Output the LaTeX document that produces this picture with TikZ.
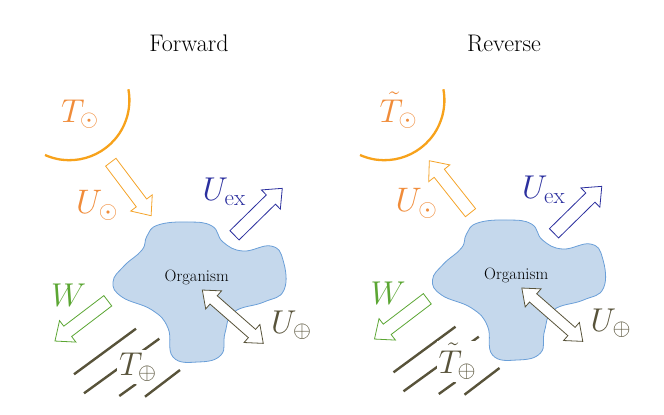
\documentclass[tikz,border=0pt]{standalone}
\usepackage{fix-cm}
\definecolor{sunarc}{HTML}{F7A21B}
\definecolor{sunlab}{HTML}{F08C3A}
\definecolor{sunflow}{HTML}{F5A42A}
\definecolor{exblue}{HTML}{2B2F9E}
\definecolor{wgreen}{HTML}{5BA633}
\definecolor{heat}{HTML}{58533A}
\definecolor{blobfill}{HTML}{C5D8EC}
\definecolor{blobline}{HTML}{6A9FD8}
\tikzset{
  sunline/.style={draw=sunarc, line width=2.3pt},
  flowarrow/.style={fill=white, line width=0.8pt, line join=miter},
  heatline/.style={draw=heat, line width=2.4pt},
  blobshape/.style={fill=blobfill, draw=blobline, line width=0.8pt},
  lab/.style={inner sep=0pt, anchor=base west, font=\fontsize{33}{38}\selectfont},
  titletext/.style={font=\fontsize{24}{29}\selectfont},
  orgtext/.style={font=\fontsize{16.5}{20}\selectfont},
}
\newcommand\singlearrow[4]{%
  \begin{scope}[shift={#2},rotate=#3]
    \path[#1] (0,-6.5) -- ({#4-16},-6.5) -- ({#4-16},-13.5) -- (#4,0) -- ({#4-16},13.5) -- ({#4-16},6.5) -- (0,6.5) -- cycle;
  \end{scope}}
\newcommand\doublearrow[4]{%
  \begin{scope}[shift={#2},rotate=#3]
    \path[#1] ({-#4/2},0) -- ({-#4/2+15},-12) -- ({-#4/2+15},-5.5) -- ({#4/2-15},-5.5) -- ({#4/2-15},-12) -- ({#4/2},0) -- ({#4/2-15},12) -- ({#4/2-15},5.5) -- ({-#4/2+15},5.5) -- ({-#4/2+15},12) -- cycle;
  \end{scope}}
\newcommand\blobpath{plot[smooth cycle, tension=0.75] coordinates {
  (147,236) (158,225) (188,222) (212,226) (223,242) (243,251) (271,246) (283,260)
  (284,290) (264,302) (234,312) (225,333) (221,355) (198,362) (173,357) (168,328)
  (152,310) (122,297) (113,282) (124,266) (142,250)}}
\begin{document}
\begin{tikzpicture}[x=1pt,y=-1pt]
\useasboundingbox (0,0) rectangle (664,415);
% ---------------- Forward ----------------
\node[titletext] (ftitle) at (189,43) {Forward};
\draw[sunline] (45,155) arc[start angle=114, end angle=-10.5, radius=60];
\node[lab, text=sunlab] (fTsun) at (61,122) {$T_\odot$};
\path[blobshape] \blobpath;
\node[orgtext] (forg) at (196.7,277.7) {Organism};
\draw[heatline] (74,374.3) -- (136,328.7);
\draw[heatline] (84,393.3) -- (159.3,338.7);
\draw[heatline] (119.3,396) -- (136,384);
\draw[heatline] (145,396.7) -- (180,370);
\node[lab, text=heat, fill=white, inner sep=2pt] (fTheat) at (117,375) {$T_\oplus$};
\node[lab, text=sunlab, font=\fontsize{34}{38}\selectfont] (fUsun) at (76,213) {$U_\odot$};
\node[lab, text=exblue] (fUex) at (202.5,200.5) {$U_{\mathrm{ex}}$};
\node[lab, text=wgreen] (fW) at (51,306) {$W$};
\node[lab, text=heat] (fUheat) at (271,333) {$U_\oplus$};
\coordinate (fAsun) at (110.8,162.2);
\coordinate (fAex) at (234.5,235.3);
\coordinate (fAw) at (107.8,300.8);
\coordinate (fAheat) at (232.8,316.7);
\singlearrow{flowarrow, draw=sunflow}{(fAsun)}{-53}{67}
\singlearrow{flowarrow, draw=exblue}{(fAex)}{44.5}{67}
\singlearrow{flowarrow, draw=wgreen}{(fAw)}{-142.7}{66.4}
\doublearrow{flowarrow, draw=heat}{(fAheat)}{-41.2}{81}
% ---------------- Reverse ----------------
\node[titletext] (rtitle) at (504,43) {Reverse};
\draw[sunline] (360,155) arc[start angle=114, end angle=-10.5, radius=60];
\node[lab, text=sunlab] (rTsun) at (379.5,122) {$\tilde{T}_\odot$};
\begin{scope}[shift={(319.5,-2)}]
\path[blobshape] \blobpath;
\node[orgtext] (rorg) at (196.7,277.7) {Organism};
\draw[heatline] (74,374.3) -- (136,328.7);
\draw[heatline] (84,393.3) -- (159.3,338.7);
\draw[heatline] (119.3,396) -- (136,384);
\draw[heatline] (145,396.7) -- (180,370);
\node[lab, text=heat, fill=white, inner sep=2pt] (rTheat) at (117,375) {$\tilde{T}_\oplus$};
\node[lab, text=sunlab, font=\fontsize{34}{38}\selectfont] (rUsun) at (76,213) {$U_\odot$};
\node[lab, text=exblue] (rUex) at (202.5,200.5) {$U_{\mathrm{ex}}$};
\node[lab, text=wgreen] (rW) at (51,306) {$W$};
\node[lab, text=heat] (rUheat) at (271,333) {$U_\oplus$};
\coordinate (rAsun) at (151,214.7);
\coordinate (rAex) at (234.5,235.3);
\coordinate (rAw) at (107.8,300.8);
\coordinate (rAheat) at (232.8,316.7);
\singlearrow{flowarrow, draw=sunflow}{(rAsun)}{128.4}{66.3}
\singlearrow{flowarrow, draw=exblue}{(rAex)}{44.5}{67}
\singlearrow{flowarrow, draw=wgreen}{(rAw)}{-142.7}{66.4}
\doublearrow{flowarrow, draw=heat}{(rAheat)}{-41.2}{81}
\end{scope}
\end{tikzpicture}
\end{document}
